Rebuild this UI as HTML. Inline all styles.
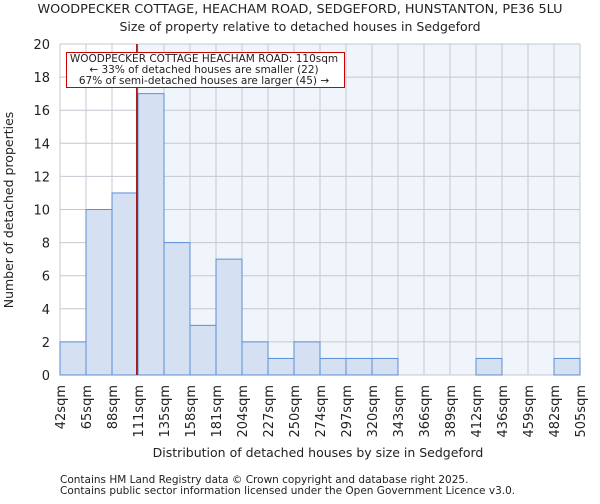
<!DOCTYPE html>
<html><head><meta charset="utf-8"><style>
body{margin:0;background:#fff;font-family:"DejaVu Sans","Liberation Sans",sans-serif;}
svg text{font-family:"DejaVu Sans","Liberation Sans",sans-serif;fill:#222;}
</style></head><body>
<svg id="c" width="600" height="500" xmlns="http://www.w3.org/2000/svg">
<text x="300" y="13" font-size="12.8" text-anchor="middle">WOODPECKER COTTAGE, HEACHAM ROAD, SEDGEFORD, HUNSTANTON, PE36 5LU</text>
<text x="300" y="31" font-size="12.5" text-anchor="middle">Size of property relative to detached houses in Sedgeford</text>
<g id="plot"></g>
<text x="318" y="457" font-size="12.5" text-anchor="middle">Distribution of detached houses by size in Sedgeford</text>
<text transform="translate(13,210) rotate(-90)" font-size="12.5" text-anchor="middle">Number of detached properties</text>
<text x="60" y="483" font-size="10.5">Contains HM Land Registry data © Crown copyright and database right 2025.</text>
<text x="60" y="494" font-size="10.5">Contains public sector information licensed under the Open Government Licence v3.0.</text>
</svg>
<script>
const categories=["42sqm","65sqm","88sqm","111sqm","135sqm","158sqm","181sqm","204sqm","227sqm","250sqm","274sqm","297sqm","320sqm","343sqm","366sqm","389sqm","412sqm","436sqm","459sqm","482sqm","505sqm"];
const values=[2,10,11,17,8,3,7,2,1,2,1,1,1,0,0,0,1,0,0,1];
const yTicks=[0,2,4,6,8,10,12,14,16,18,20];
const edges=[42,65,88,111,135,158,181,204,227,250,274,297,320,343,366,389,412,436,459,482,505];
const marker=110;
const L=60,R=580,T=44,B=375,NS="http://www.w3.org/2000/svg";
const g=document.getElementById('plot');
const bw=(R-L)/values.length;
const y=v=>B-(v/20)*(B-T);
function xv(s){for(let i=0;i<edges.length-1;i++){if(s<=edges[i+1])return L+bw*(i+(s-edges[i])/(edges[i+1]-edges[i]));}return R;}
function mk(t,a){const e=document.createElementNS(NS,t);for(const k in a)e.setAttribute(k,a[k]);g.appendChild(e);return e;}
const mx=xv(marker);
let e=mk('rect',{x:L,y:T,width:mx-L,height:B-T,fill:'#ffffff'});


e=mk('rect',{x:mx,y:T,width:R-mx,height:B-T,fill:'#f0f4fb'});


yTicks.forEach(t=>{
 let l=mk('line',{x1:L,x2:R,y1:y(t),y2:y(t),stroke:'#c4c8d0','stroke-width':1});
 
 
 let tx=mk('text',{x:L-10,y:y(t)+5,'font-size':13,'text-anchor':'end'});
 tx.textContent=t;
 
 
});
categories.forEach((c,i)=>{
 const x=L+bw*i;
 let l=mk('line',{x1:x,x2:x,y1:T,y2:B,stroke:'#c4c8d0','stroke-width':1});
 
 
 let tx=mk('text',{transform:`translate(${x+5},${B+10}) rotate(-90)`,'font-size':13,'text-anchor':'end'});
 tx.textContent=c;
 
 
});
values.forEach((v,i)=>{
 if(v<=0)return;
 let r=mk('rect',{x:L+bw*i,y:y(v),width:bw,height:B-y(v),fill:'#d6e0f3',stroke:'#5b8fd6','stroke-width':1});
 
 
});
e=mk('line',{x1:mx,x2:mx,y1:T,y2:B,stroke:'#990000','stroke-width':1.5});


e=mk('rect',{x:66.5,y:52.5,width:278,height:35,fill:'#fff',stroke:'#cc0000','stroke-width':1});


["WOODPECKER COTTAGE HEACHAM ROAD: 110sqm","← 33% of detached houses are smaller (22)","67% of semi-detached houses are larger (45) →"].forEach((s,i)=>{
 let t=mk('text',{x:204,y:62+i*11,'font-size':10.5,'text-anchor':'middle'});
 t.textContent=s;
 
 
});
</script>
</body></html>
